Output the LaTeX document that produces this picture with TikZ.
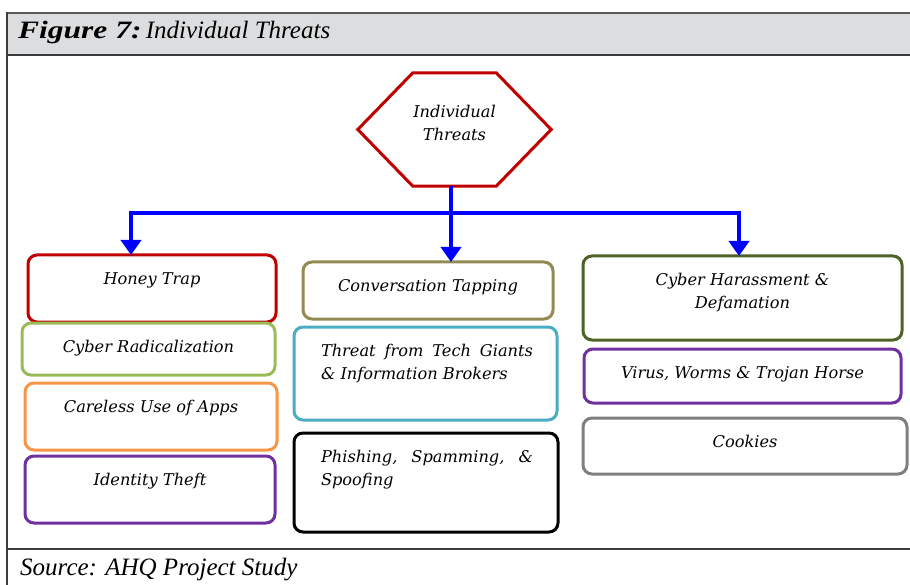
\documentclass[tikz,border=0pt]{standalone}
\usepackage{fontspec}
\setmainfont{Liberation Serif}
\newfontfamily\bkfont{DejaVu Serif}
\usetikzlibrary{arrows.meta}
\definecolor{hdrfill}{HTML}{DCDDDF}
\definecolor{hdrline}{HTML}{5A5A5A}
\definecolor{frameline}{HTML}{3C3C3C}
\definecolor{cred}{HTML}{C00000}
\definecolor{cgreen}{HTML}{9BBB59}
\definecolor{corange}{HTML}{F79646}
\definecolor{cpurple}{HTML}{7030A0}
\definecolor{ctan}{HTML}{948A54}
\definecolor{cblue}{HTML}{4BACC6}
\definecolor{colive}{HTML}{4F6228}
\definecolor{cgrey}{HTML}{7F7F7F}
\definecolor{arrblue}{HTML}{0000FF}
\newcommand{\bkit}{\bkfont\itshape\fontsize{16.2}{23}\selectfont}
\newcommand{\cbox}[3]{\parbox[c][#2][t]{#1}{\centering\bkit\rule{0pt}{29.5pt}#3\par}}
\newcommand{\jbox}[3]{\parbox[c][#2][t]{#1}{\bkit\parindent=0pt\leftskip=27pt\rightskip=0pt plus 1fil\rule{0pt}{29.5pt}#3\par}}
\tikzset{
  tbox/.style={draw, rounded corners=9pt, line width=3pt, inner sep=0pt, outer sep=0pt, anchor=north west, fill=white},
  conn/.style={draw=arrblue, line width=4pt},
  tip/.style={-{Triangle[width=20pt,length=15pt]}},
}
\begin{document}
\begin{tikzpicture}[x=1pt,y=-1pt]
\useasboundingbox (0,0) rectangle (910,585);
% header band
\fill[hdrfill] (7,13) rectangle (912,55);
\draw[hdrline, line width=2.5pt] (7,13) -- (912,13);
\draw[frameline, line width=2pt] (7,55) -- (912,55);
\draw[frameline, line width=1.5pt] (7,12) -- (7,586);
\draw[frameline, line width=1.5pt] (7,549) -- (912,549);
\node[anchor=base west, inner sep=0pt] (title) at (18,39)
  {\fontsize{25}{25}\selectfont\scalebox{1.26}[1]{\bfseries\itshape Figure 7:}\,\itshape Individual Threats};
\node[anchor=base west, inner sep=0pt] (source) at (20,575)
  {\fontsize{25}{25}\selectfont\itshape Source: AHQ Project Study};
% hexagon
\node[minimum width=193pt, minimum height=113pt, inner sep=0pt] (hex) at (454.5,129.5) {};
\draw[cred, line width=3pt, line join=miter]
  (hex.west) -- ([xshift=55pt]hex.north west) -- ([xshift=-55pt]hex.north east)
  -- (hex.east) -- ([xshift=-55pt]hex.south east) -- ([xshift=55pt]hex.south west) -- cycle;
\node[align=center, inner sep=0pt, font=\bkit] (hext) at ([yshift=7pt]hex.center) {Individual\\Threats};
% left column
\node[tbox, draw=cred] (ht) at (28,255) {\cbox{248pt}{67pt}{Honey Trap}};
\node[tbox, draw=cgreen] (cr) at (22,323) {\cbox{253pt}{52pt}{Cyber Radicalization}};
\node[tbox, draw=corange] (cu) at (25,383) {\cbox{252pt}{67pt}{Careless Use of Apps}};
\node[tbox, draw=cpurple] (it) at (25,456) {\cbox{250pt}{67pt}{Identity Theft}};
% middle column
\node[tbox, draw=ctan] (ct) at (303,262) {\cbox{250pt}{57pt}{Conversation Tapping}};
\node[tbox, draw=cblue] (tg) at (294,327) {\jbox{263pt}{93pt}{\makebox[212pt][s]{Threat from Tech Giants}\\\& Information Brokers}};
\node[tbox, draw=black] (ph) at (294,433) {\jbox{264pt}{99pt}{\makebox[212pt][s]{Phishing, Spamming, \&}\\Spoofing}};
% right column
\node[tbox, draw=colive] (ch) at (583,256) {\cbox{319pt}{84pt}{Cyber Harassment \&\\Defamation}};
\node[tbox, draw=cpurple] (vw) at (584,349) {\cbox{317pt}{54pt}{Virus, Worms \& Trojan Horse}};
\node[tbox, draw=cgrey] (ck) at (583,418) {\cbox{324pt}{56pt}{Cookies}};
% connectors
\coordinate (hexbot) at (451,186);
\coordinate (jl) at (131,213);
\coordinate (jr) at (739,213);
\draw[conn, line join=miter, {Triangle[width=20pt,length=15pt]}-{Triangle[width=20pt,length=15pt]}]
  (jl |- ht.north) -- (jl) -- (jr) -- (jr |- ch.north);
\draw[conn, tip] (hexbot) -- (hexbot |- ct.north);
\end{tikzpicture}
\end{document}
